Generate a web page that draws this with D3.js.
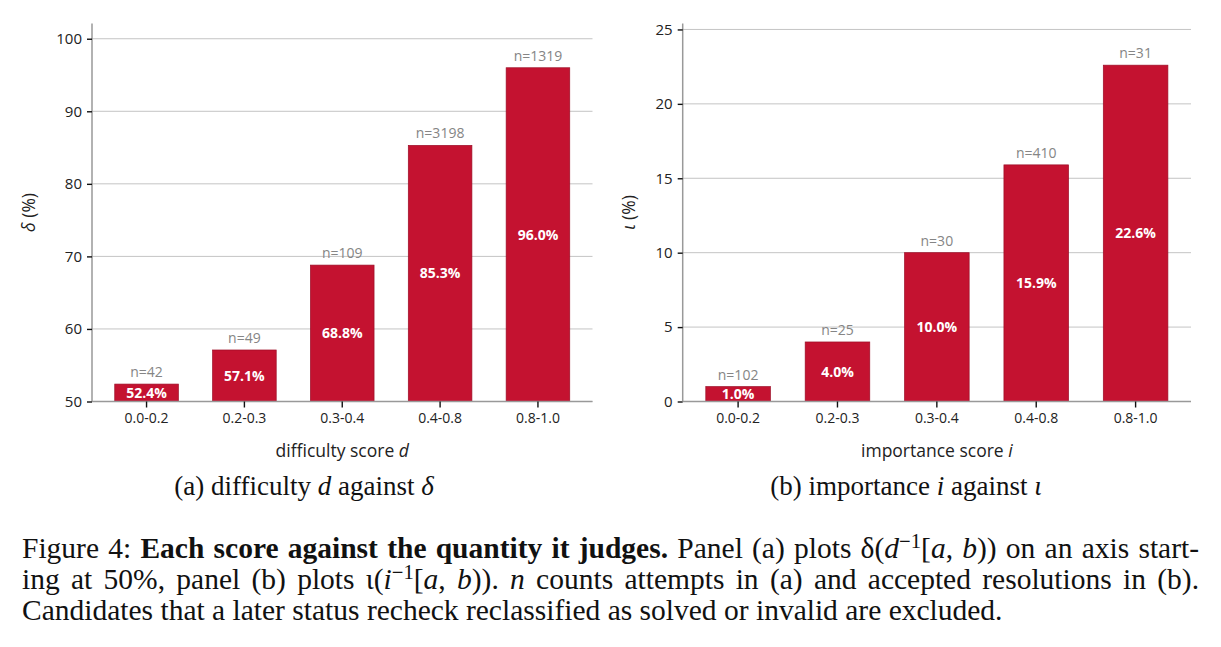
<!DOCTYPE html>
<html>
<head>
<meta charset="utf-8">
<script src="https://cdn.jsdelivr.net/npm/d3@7"></script>
<style>
  html, body { margin: 0; padding: 0; background: #fff; }
  svg { display: block; }
</style>
</head>
<body>
<svg width="1221" height="647"></svg>
<script>
const bins = ["0.0-0.2", "0.2-0.3", "0.3-0.4", "0.4-0.8", "0.8-1.0"];
const difficultyRate = [52.4, 57.1, 68.8, 85.3, 96.0];
const difficultyN = [42, 49, 109, 3198, 1319];
const importanceRate = [1.0, 4.0, 10.0, 15.9, 22.6];
const importanceN = [102, 25, 30, 410, 31];
const difficultyTicks = [50, 60, 70, 80, 90, 100];
const importanceTicks = [0, 5, 10, 15, 20, 25];

const svg = d3.select("svg");
const sans = "'Open Sans', 'Noto Sans', sans-serif";
const serif = "'Liberation Serif', 'DejaVu Serif', serif";
const barColor = "#c41230";

const plotTop = 23.5, plotBottom = 401.5;

function panel(opts) {
  const g = svg.append("g");
  const rows = bins.map((b, i) => ({ bin: b, v: opts.values[i], n: opts.counts[i] }));

  const x = d3.scaleBand()
    .domain(bins)
    .range([opts.left, opts.right])
    .paddingInner(0.35)
    .paddingOuter(0.2325);

  const y = d3.scaleLinear()
    .domain(opts.yDomain)
    .range([plotBottom, plotTop]);

  // gridlines
  g.selectAll("line.grid")
    .data(opts.ticks)
    .enter()
    .append("line")
    .attr("class", "grid")
    .attr("x1", opts.left)
    .attr("x2", opts.right)
    .attr("y1", d => y(d))
    .attr("y2", d => y(d))
    .attr("stroke", "#c4c4c4")
    .attr("stroke-width", 1);

  // bars
  g.selectAll("rect.bar")
    .data(rows)
    .enter()
    .append("rect")
    .attr("class", "bar")
    .attr("x", d => x(d.bin))
    .attr("y", d => y(d.v))
    .attr("width", x.bandwidth())
    .attr("height", d => y(opts.yDomain[0]) - y(d.v))
    .attr("fill", barColor)
    .attr("stroke", "#9c0e27")
    .attr("stroke-width", 0.7);

  // n labels
  g.selectAll("text.n")
    .data(rows)
    .enter()
    .append("text")
    .attr("class", "n")
    .attr("x", d => x(d.bin) + x.bandwidth() / 2)
    .attr("y", d => y(d.v) - 7)
    .attr("text-anchor", "middle")
    .attr("font-family", sans)
    .attr("font-size", 14)
    .attr("fill", "#858585")
    .text(d => "n=" + d.n);

  // value labels
  g.selectAll("text.val")
    .data(rows)
    .enter()
    .append("text")
    .attr("class", "val")
    .attr("x", d => x(d.bin) + x.bandwidth() / 2)
    .attr("y", d => (y(d.v) + y(opts.yDomain[0])) / 2)
    .attr("dy", "0.36em")
    .attr("text-anchor", "middle")
    .attr("font-family", sans)
    .attr("font-weight", "bold")
    .attr("font-size", 14)
    .attr("fill", "#fff")
    .text(d => d.v.toFixed(1) + "%");

  // axes
  const yAxis = d3.axisLeft(y).tickValues(opts.ticks).tickSize(5).tickPadding(5);
  const xAxis = d3.axisBottom(x).tickSize(6).tickPadding(6);

  const ya = g.append("g")
    .attr("transform", `translate(${opts.left},0)`)
    .call(yAxis);
  const xa = g.append("g")
    .attr("transform", `translate(0,${plotBottom})`)
    .call(xAxis);

  [ya, xa].forEach(a => {
    a.select(".domain").attr("stroke", "#999").attr("stroke-width", 1.5);
    a.selectAll(".tick line").attr("stroke", "#111").attr("stroke-width", 1.4);
    a.selectAll(".tick text")
      .attr("font-family", sans)
      .attr("font-size", 14)
      .attr("fill", "#222");
  });
  ya.select(".domain").attr("d", `M0,${plotBottom}V${plotTop}`);
  xa.select(".domain").attr("d", `M${opts.left},0H${opts.right}`);
  ya.selectAll(".tick text").attr("font-size", 15);

  // x axis title
  const xt = g.append("text")
    .attr("x", (opts.left + opts.right) / 2)
    .attr("y", 457)
    .attr("text-anchor", "middle")
    .attr("font-family", sans)
    .attr("font-size", 17.5)
    .attr("fill", "#222");
  xt.append("tspan").text(opts.xTitle + " ");
  xt.append("tspan").attr("font-style", "italic").text(opts.xVar);

  // y axis title
  const yt = g.append("text")
    .attr("transform", `translate(${opts.yTitleX},${(plotTop + plotBottom) / 2}) rotate(-90)`)
    .attr("text-anchor", "middle")
    .attr("font-family", sans)
    .attr("font-size", 17.5)
    .attr("fill", "#222");
  yt.append("tspan").attr("font-style", "italic").text(opts.yVar);
  yt.append("tspan").text(" (%)");

  // subcaption
  const sc = g.append("text")
    .attr("x", opts.capX)
    .attr("y", 494.5)
    .attr("text-anchor", "middle")
    .attr("font-family", serif)
    .attr("font-size", 27)
    .attr("fill", "#111");
  sc.append("tspan").text(opts.capPre + " ");
  sc.append("tspan").attr("font-style", "italic").text(opts.xVar);
  sc.append("tspan").text(" against ");
  sc.append("tspan").attr("font-style", "italic").text(opts.yVar);
}

panel({
  values: difficultyRate, counts: difficultyN, ticks: difficultyTicks,
  left: 92, right: 592.5, yDomain: [50, 102.1], yTitleX: 35,
  xTitle: "difficulty score", xVar: "d", yVar: "δ",
  capPre: "(a) difficulty", capX: 304
});

panel({
  values: importanceRate, counts: importanceN, ticks: importanceTicks,
  left: 682.7, right: 1191, yDomain: [0, 25.4], yTitleX: 635,
  xTitle: "importance score", xVar: "i", yVar: "ι",
  capPre: "(b) importance", capX: 906
});

// figure caption, first two lines justified by word spacing
const capX = 22, capW = 1177, capSize = 29.5;
function capLine(yPos, parts, justify) {
  const t = svg.append("text")
    .attr("x", capX)
    .attr("y", yPos)
    .attr("font-family", serif)
    .attr("font-size", capSize)
    .attr("fill", "#111");
  parts.forEach(p => {
    const s = t.append("tspan").text(p.t);
    if (p.b) s.attr("font-weight", "bold");
    if (p.i) s.attr("font-style", "italic");
    if (p.sup) s.attr("dy", -10).attr("font-size", capSize * 0.7);
    if (p.down) s.attr("dy", 10);
  });
  if (justify) {
    const len = t.node().getComputedTextLength();
    const gaps = parts.map(p => p.t).join("").split(" ").length - 1;
    t.attr("word-spacing", (capW - len) / gaps);
  }
}

capLine(557.5, [
  { t: "Figure 4: " },
  { t: "Each score against the quantity it judges.", b: true },
  { t: " Panel (a) plots δ(" },
  { t: "d", i: true },
  { t: "−1", sup: true },
  { t: "[", down: true },
  { t: "a", i: true },
  { t: ", " },
  { t: "b", i: true },
  { t: ")) on an axis start-" }
], true);

capLine(588.5, [
  { t: "ing at 50%, panel (b) plots ι(" },
  { t: "i", i: true },
  { t: "−1", sup: true },
  { t: "[", down: true },
  { t: "a", i: true },
  { t: ", " },
  { t: "b", i: true },
  { t: "))." },
  { t: " n", i: true },
  { t: " counts attempts in (a) and accepted resolutions in (b)." }
], true);

capLine(619.5, [
  { t: "Candidates that a later status recheck reclassified as solved or invalid are excluded." }
], false);
</script>
</body>
</html>
